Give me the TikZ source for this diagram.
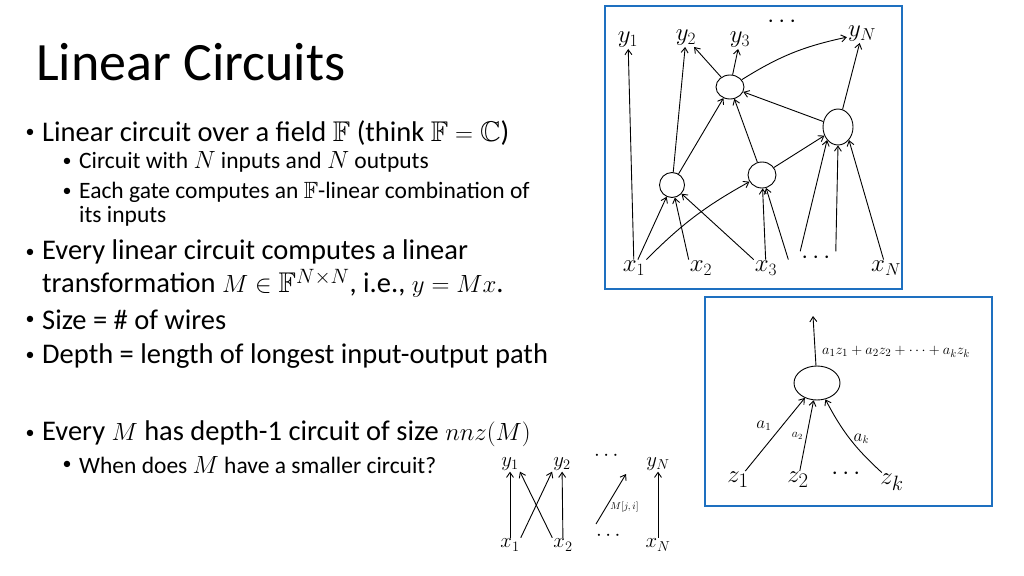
\documentclass[tikz,border=0pt]{standalone}
\usepackage{amsmath,amssymb}
\usepackage{fontspec}
\setmainfont{Carlito}
\begin{document}
\begin{tikzpicture}[x=1pt,y=-1pt,
 box/.style={draw=bx,line width=2.5pt},
 g/.style={draw,ellipse,line width=0.9pt,inner sep=0pt},
 hw/.style={font=\fontsize{26}{26}\selectfont,inner sep=1pt},
 sm/.style={font=\fontsize{21}{21}\selectfont,inner sep=1pt},
 e/.style={->,line width=0.9pt,>={Straight Barb[length=5pt,width=7pt]}},
 bu/.style={anchor=center,font=\fontsize{18}{18}\selectfont,inner sep=0pt},
 t1/.style={anchor=west,font=\fontsize{28.5}{28}\selectfont,inner sep=0pt},
 t2/.style={anchor=west,font=\fontsize{23.5}{24}\selectfont,inner sep=0pt}]
\usetikzlibrary{shapes.geometric,arrows.meta}
\definecolor{bx}{RGB}{30,112,192}
\useasboundingbox (0,0) rectangle (1024,575);
\node[anchor=west,font=\fontsize{54}{56}\selectfont,inner sep=0pt] (title) at (36,62) {Linear Circuits};
\node[bu] (d1) at (30,133) {•};
\node[t1] (b1) at (42,133) {Linear circuit over a field $\mathbb{F}$ (think $\mathbb{F}=\mathbb{C}$)};
\node[bu] (d1a) at (67,162) {•};
\node[t2] (b1a) at (79,162) {Circuit with $N$ inputs and $N$ outputs};
\node[bu] (d1b) at (67,192) {•};
\node[t2] (b1b) at (79,192) {Each gate computes an $\mathbb{F}$-linear combination of};
\node[t2] (b1c) at (79,216) {its inputs};
\node[bu] (d2) at (30,253) {•};
\node[t1] (b2) at (42,252) {Every linear circuit computes a linear};
\node[t1] (b2b) at (42,283) {transformation $M\in\mathbb{F}^{N\times N}$, i.e., $y=Mx$.};
\node[bu] (d3) at (30,320) {•};
\node[t1] (b3) at (42,320) {Size = \# of wires};
\node[bu] (d4) at (30,356) {•};
\node[t1] (b4) at (42,356) {Depth = length of longest input-output path};
\node[bu] (d5) at (30,434) {•};
\node[t1] (b5) at (42,434) {Every $M$ has depth-1 circuit of size $nnz(M)$};
\node[bu] (d5a) at (67,465) {•};
\node[t2] (b5a) at (79,465) {When does $M$ have a smaller circuit?};
% box 1
\draw[box] (605,6) rectangle (902,289);
\node[hw] (y1) at (628,40) {$y_1$};
\node[hw] (y2) at (686,38) {$y_2$};
\node[hw] (y3) at (740,40) {$y_3$};
\node[hw] (yd) at (784,22) {$\cdots$};
\node[hw] (yN) at (862,34) {$y_N$};
\node[hw] (x1) at (634,268) {$x_1$};
\node[hw] (x2) at (701,268) {$x_2$};
\node[hw] (x3) at (766,268) {$x_3$};
\node[hw] (xd) at (818,258) {$\cdots$};
\node[hw] (xN) at (886,268) {$x_N$};
\node[g,minimum width=28pt,minimum height=24pt] (A) at (730,87) {};
\node[g,minimum width=30pt,minimum height=36pt] (B) at (838,127) {};
\node[g,minimum width=25pt,minimum height=25pt] (C) at (672,185) {};
\node[g,minimum width=28pt,minimum height=26pt] (D) at (762,175) {};
\draw[e] (x1) -- (y1);
\draw[e] (C) -- (y2);
\draw[e] (A) -- (y2);
\draw[e] (A) -- (y3);
\draw[e] (A) to[bend left=10] (yN);
\draw[e] (B) -- (yN);
\draw[e] (B) -- (A);
\draw[e] (C) -- (A);
\draw[e] (D) -- (A);
\draw[e] (D) -- (B);
\draw[e] (x1) -- (C);
\draw[e] (x2.north west) -- (C);
\draw[e] (x3.north west) -- (C);
\draw[e] (x1.north east) to[bend left=8] (D);
\draw[e] (x3) -- (D);
\draw[e] (x3.north east) ++(10,0) -- (D);
\draw[e] (xd.north west) -- (B.south west);
\draw[e] (xd.north east) -- (B.south);
\draw[e] (xN) -- (B.south east);
% box 2
\draw[box] (705,297) rectangle (992,506);
\node[g,minimum width=46pt,minimum height=34pt] (G) at (817,383) {};
\coordinate (out) at (813,316);
\draw[e] (G) -- (out);
\node[font=\fontsize{15}{15}\selectfont,anchor=west,inner sep=0pt] (lab) at (822,352) {$a_1z_1+a_2z_2+\cdots+a_kz_k$};
\node[hw,font=\fontsize{30}{30}\selectfont] (z1) at (738,480) {$z_1$};
\node[hw,font=\fontsize{30}{30}\selectfont] (z2) at (798,480) {$z_2$};
\node[hw] (zd) at (848,474) {$\cdots$};
\node[hw,font=\fontsize{30}{30}\selectfont] (zk) at (892,482) {$z_k$};
\draw[e] (z1) -- (G) node[midway,above left,font=\fontsize{16}{16}\selectfont] {$a_1$};
\draw[e] (z2) -- (G) node[midway,left,font=\fontsize{12}{12}\selectfont] {$a_2$};
\draw[e] (zk) to[bend left=10] node[pos=0.5,right,font=\fontsize{16}{16}\selectfont] {$a_k$} (G);
% small circuit
\node[sm] (sy1) at (510,464) {$y_1$};
\node[sm] (sy2) at (562,464) {$y_2$};
\node[sm] (syd) at (608,456) {$\cdots$};
\node[sm] (syN) at (658,464) {$y_N$};
\node[sm] (sx1) at (510,545) {$x_1$};
\node[sm] (sx2) at (563,545) {$x_2$};
\node[sm] (sxd) at (610,536) {$\cdots$};
\node[sm] (sxN) at (658,545) {$x_N$};
\draw[e] (sx1) -- (sy1);
\draw[e] (sx1.north east) -- (sy2.south west);
\draw[e] (sx2.north west) -- (sy1.south east);
\draw[e] (sx2) -- (sy2);
\coordinate (mlo) at (596,524);
\coordinate (mhi) at (626,474);
\draw[e] (mlo) -- (mhi) node[pos=0.35,right,font=\fontsize{10}{10}\selectfont] {$M[j,i]$};
\draw[e] (sxN) -- (syN);
\end{tikzpicture}
\end{document}
